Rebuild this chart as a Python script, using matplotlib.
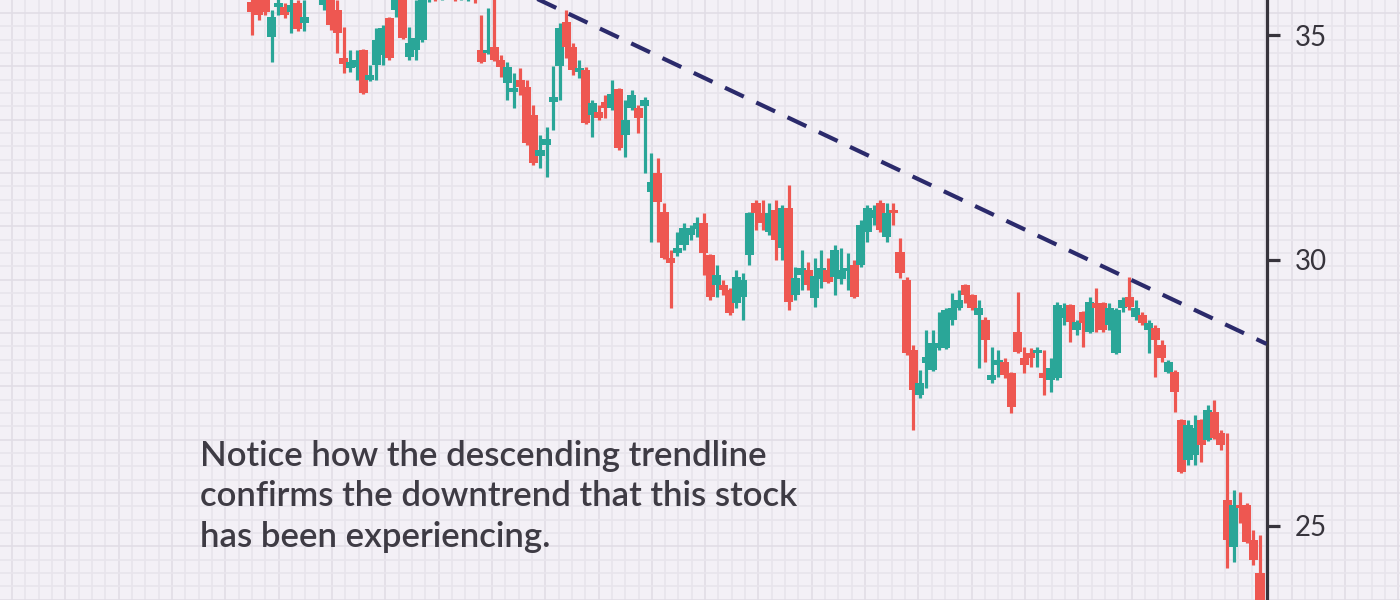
import matplotlib
matplotlib.use("Agg")
import matplotlib.pyplot as plt
import numpy as np
from matplotlib.ticker import NullLocator

# ---------------- data (price) ----------------
opens = [
    35.80, 35.97, 35.85, 34.95, 35.68, 35.68, 35.55, 35.78, 35.29, 35.97,
    36.34, 35.73, 35.97, 35.60, 34.45, 34.22, 34.24, 34.64, 33.94, 34.29,
    34.52, 35.41, 35.60, 35.97, 34.48, 34.64, 34.88, 35.85, 36.10, 36.05,
    36.10, 36.22, 36.05, 35.97, 36.10, 34.64, 34.57, 34.71, 34.41, 33.87,
    33.66, 33.94, 33.78, 33.13, 32.22, 32.46, 33.43, 34.27, 35.31, 34.71,
    34.12, 34.17, 33.13, 33.20, 33.43, 33.29, 33.73, 32.68, 33.29, 33.29,
    33.34, 31.43, 31.84, 31.00, 30.04, 30.14, 30.31, 30.52, 30.64, 30.77,
    30.10, 29.49, 29.49, 29.39, 29.13, 29.25, 30.10, 31.19, 30.98, 30.58,
    31.04, 30.25, 31.08, 29.29, 29.69, 29.79, 29.23, 29.61, 29.79, 29.65,
    29.61, 29.77, 29.90, 29.90, 30.58, 30.87, 31.19, 30.48, 31.04, 30.17,
    29.59, 28.20, 27.35, 27.96, 27.82, 28.24, 28.24, 28.79, 29.03, 29.49,
    29.29, 28.89, 28.79, 27.63, 27.92, 27.98, 27.76, 28.55, 28.05, 28.15,
    28.15, 27.76, 27.63, 27.67, 28.83, 29.09, 28.59, 28.95, 28.55, 29.13,
    29.13, 28.69, 28.15, 29.03, 29.25, 28.85, 28.89, 28.59, 28.63, 28.30,
    27.78, 27.78, 26.88, 26.16, 26.25, 26.88, 26.52, 27.03, 26.65, 25.45,
    24.64, 25.36, 25.36, 24.76, 24.21,
]
highs = [
    36.05, 36.10, 35.97, 35.60, 35.97, 35.78, 35.97, 35.85, 35.85, 36.46,
    36.59, 36.22, 36.10, 35.85, 35.19, 34.64, 34.64, 34.66, 34.29, 35.17,
    35.24, 35.43, 36.10, 36.10, 35.19, 35.85, 35.97, 36.34, 36.22, 36.46,
    36.59, 36.34, 36.54, 36.46, 36.22, 35.48, 35.65, 35.97, 34.52, 34.36,
    34.10, 34.22, 33.94, 33.36, 32.68, 32.86, 34.27, 35.29, 35.60, 34.81,
    34.41, 34.24, 33.48, 33.36, 33.59, 33.94, 33.75, 33.48, 33.71, 33.36,
    33.55, 32.28, 32.17, 31.19, 30.21, 30.58, 30.77, 30.73, 30.89, 30.98,
    30.12, 29.90, 29.59, 29.43, 29.79, 29.73, 31.00, 31.26, 31.26, 31.19,
    31.26, 31.15, 31.58, 29.86, 30.21, 29.96, 30.04, 30.21, 30.04, 30.31,
    30.25, 30.14, 30.00, 30.83, 31.15, 31.15, 31.26, 31.19, 31.19, 30.46,
    29.65, 28.30, 27.82, 28.59, 28.59, 28.95, 29.03, 29.33, 29.39, 29.51,
    29.31, 29.19, 28.85, 28.26, 28.20, 28.05, 27.78, 29.35, 28.26, 28.24,
    28.26, 28.20, 28.05, 29.15, 29.13, 29.11, 28.79, 28.97, 29.25, 29.43,
    29.15, 29.13, 29.03, 29.25, 29.65, 29.19, 28.95, 28.79, 28.69, 28.40,
    28.01, 27.82, 26.90, 26.88, 26.98, 26.90, 27.16, 27.25, 26.70, 26.65,
    25.62, 25.59, 25.40, 24.93, 24.85,
]
lows = [
    35.00, 35.36, 35.48, 34.36, 35.48, 35.41, 35.05, 35.10, 35.10, 35.90,
    35.92, 35.60, 35.12, 34.57, 34.10, 34.12, 33.94, 33.62, 33.92, 33.94,
    34.29, 34.41, 35.43, 34.91, 34.41, 34.41, 34.83, 35.80, 35.83, 35.85,
    35.92, 35.83, 35.85, 35.83, 35.78, 34.34, 34.55, 34.39, 34.01, 33.48,
    33.29, 33.59, 32.46, 32.02, 31.96, 31.76, 32.79, 33.48, 34.45, 34.05,
    33.99, 32.93, 32.63, 33.02, 33.06, 33.25, 32.35, 32.20, 33.25, 32.72,
    31.84, 30.37, 30.37, 30.02, 29.03, 30.08, 30.21, 30.41, 30.48, 29.69,
    29.19, 29.25, 29.29, 28.89, 29.03, 28.79, 29.90, 30.62, 30.62, 30.52,
    30.00, 30.00, 28.99, 29.19, 29.39, 29.39, 29.05, 29.43, 29.53, 29.29,
    29.51, 29.39, 29.23, 29.86, 30.37, 30.73, 30.58, 30.37, 30.73, 29.63,
    28.11, 26.70, 27.29, 27.48, 27.79, 28.20, 28.22, 28.69, 28.99, 29.13,
    28.99, 27.86, 27.98, 27.57, 27.69, 27.67, 27.01, 28.15, 27.76, 27.88,
    27.88, 27.35, 27.40, 27.63, 28.69, 28.36, 28.50, 28.26, 28.53, 28.55,
    28.55, 28.59, 28.13, 28.95, 28.99, 28.79, 28.69, 28.15, 27.69, 27.98,
    27.76, 27.03, 25.93, 26.07, 26.07, 26.11, 26.50, 26.54, 26.34, 24.29,
    24.39, 25.05, 24.71, 24.34, 23.44,
]
closes = [
    35.55, 35.48, 35.55, 35.43, 35.78, 35.48, 35.73, 35.14, 35.43, 36.22,
    36.05, 36.10, 35.24, 35.05, 34.31, 34.36, 34.41, 33.64, 34.05, 34.88,
    35.17, 34.45, 35.97, 34.93, 34.81, 34.93, 35.85, 36.22, 35.92, 36.34,
    36.46, 35.97, 36.39, 36.34, 35.90, 34.36, 34.64, 34.41, 34.24, 34.24,
    33.75, 33.78, 32.50, 32.06, 32.35, 32.59, 33.55, 35.17, 34.71, 34.17,
    34.22, 32.95, 33.41, 33.06, 33.29, 33.61, 32.39, 33.02, 33.59, 33.06,
    33.48, 31.65, 31.21, 30.04, 29.94, 30.25, 30.66, 30.66, 30.77, 30.14,
    29.25, 29.69, 29.39, 28.93, 29.65, 29.59, 30.98, 30.98, 30.77, 30.98,
    30.41, 31.08, 29.15, 29.63, 29.84, 29.49, 29.67, 29.84, 29.55, 30.21,
    29.79, 29.84, 29.25, 30.73, 31.08, 31.04, 30.62, 30.98, 30.98, 29.73,
    28.15, 27.44, 27.57, 28.07, 28.34, 28.34, 28.99, 29.03, 29.19, 29.29,
    29.03, 29.03, 28.40, 27.73, 28.01, 27.73, 27.12, 28.17, 27.92, 28.05,
    28.20, 27.67, 27.86, 29.09, 29.03, 28.75, 28.75, 28.73, 29.15, 29.03,
    28.59, 29.03, 28.99, 29.19, 29.05, 29.03, 28.73, 28.73, 28.40, 28.05,
    27.98, 27.40, 25.94, 26.79, 26.74, 26.43, 27.07, 26.56, 26.43, 24.76,
    25.36, 25.31, 24.73, 24.42, 23.52,
]

# descending trendline: (candle index, price) at both ends
trend_idx = [40, 155]
trend_price = [36.15, 28.32]

y_ticks = [25, 30, 35]
y_tick_labels = ["25", "30", "35"]

caption = ("Notice how the descending trendline\n"
           "confirms the downtrend that this stock\n"
           "has been experiencing.")

# ---------------- style ----------------
BG = "#f3f0f6"
GRID_MINOR = "#e8e4ec"
GRID_MAJOR = "#e1dde6"
UP = "#2aa698"
DOWN = "#ee5751"
AXIS = "#37343c"
TREND = "#2b2a6b"
TEXT = "#3e3b44"

W, H = 1400, 600
fig = plt.figure(figsize=(W / 100, H / 100), dpi=100, facecolor=BG)

# background graph-paper grid (decoration)
bg = fig.add_axes([0, 0, 1, 1], zorder=0)
bg.set_facecolor(BG)
bg.set_xlim(0, W)
bg.set_ylim(H, 0)
bg.axis("off")
step = 13.33
for k, gx in enumerate(np.arange(12, W, step)):
    bg.axvline(gx, color=GRID_MAJOR if k % 4 == 0 else GRID_MINOR, lw=1.2, zorder=0)
for k, gy in enumerate(np.arange(13, H, step)):
    bg.axhline(gy, color=GRID_MAJOR if k % 4 == 0 else GRID_MINOR, lw=1.2, zorder=0)

# main price axes; its right spine is the price axis
spine_x = 1267
ax = fig.add_axes([0, 0, spine_x / W, 1], zorder=1)
ax.set_facecolor("none")
ax.set_yscale("log")

n = len(opens)
x = np.arange(n)
o = np.array(opens)
c = np.array(closes)
hi = np.array(highs)
lo = np.array(lows)
up = c >= o
colors = np.where(up, UP, DOWN)

ax.vlines(x, lo, hi, colors=colors, linewidth=2.3, zorder=2)
body_bottom = np.minimum(o, c)
body_h = np.maximum(np.abs(c - o), 0.05)
ax.bar(x, body_h, bottom=body_bottom, width=1.4, color=colors,
       linewidth=0, zorder=3)

ax.plot(trend_idx, trend_price, color=TREND, lw=3.0,
        linestyle=(0, (5.0, 3.3)), zorder=4, dash_capstyle="butt")

# axis limits (first candle near x=252px, last near x=1260px)
ax.set_xlim(-38.5, 155.07)
ax.set_ylim(23.76, 35.85)

for s in ["top", "bottom", "left"]:
    ax.spines[s].set_visible(False)
ax.spines["right"].set_color(AXIS)
ax.spines["right"].set_linewidth(2.3)
ax.set_xticks([])
ax.yaxis.tick_right()
ax.yaxis.set_minor_locator(NullLocator())
ax.set_yticks(y_ticks)
ax.set_yticklabels(y_tick_labels)
ax.tick_params(axis="y", which="major", direction="out", length=9,
               width=2.3, color=AXIS, pad=11, labelsize=20,
               labelcolor=AXIS)
for lab in ax.get_yticklabels():
    lab.set_fontfamily("Lato")

fig.text(200 / W, 1 - 440 / H, caption, ha="left", va="top",
         fontsize=25, color=TEXT, family="Lato", fontweight="semibold",
         linespacing=1.32)

fig.savefig("out.png", dpi=100, facecolor=BG)
